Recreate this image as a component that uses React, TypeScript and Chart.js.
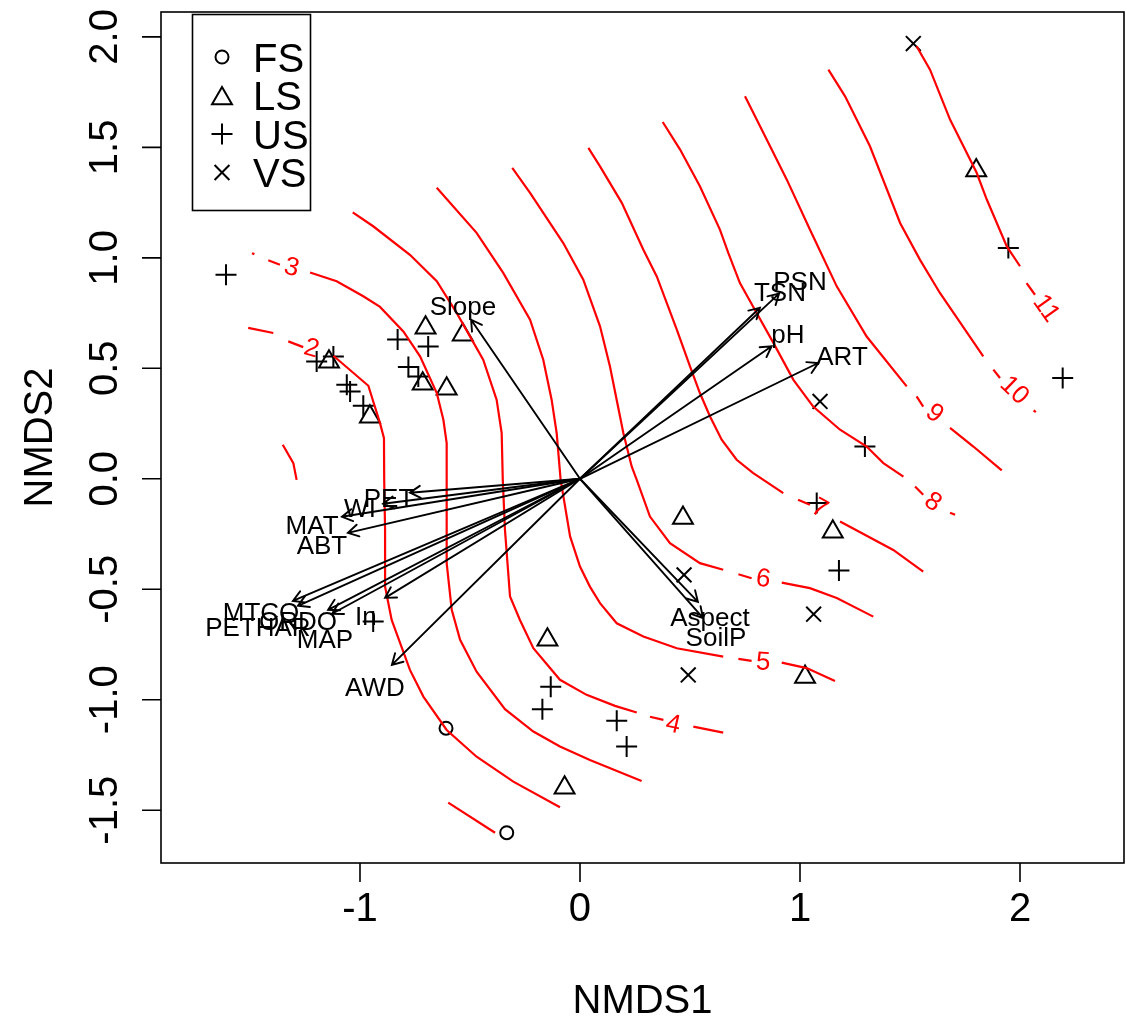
import React, { useEffect, useRef } from "react";
import { Chart, registerables } from "chart.js";
import { drawPoint } from "chart.js/helpers";

Chart.register(...registerables);

// ---------- axes ----------
const xRange = [-1.9045, 2.4727];
const yRange = [-1.7391, 2.1128];
const xTicks = [-1, 0, 1, 2];
const xTickLabels = ["-1", "0", "1", "2"];
const yTicks = [-1.5, -1.0, -0.5, 0.0, 0.5, 1.0, 1.5, 2.0];
const yTickLabels = ["-1.5", "-1.0", "-0.5", "0.0", "0.5", "1.0", "1.5", "2.0"];
const xTitle = "NMDS1";
const yTitle = "NMDS2";

// ---------- site scores ----------
const groupNames = ["FS", "LS", "US", "VS"];
const groupStyles = ["circle", "triangle", "cross", "crossRot"];

const fsX = [-0.609, -0.333];
const fsY = [-1.129, -1.602];

const lsX = [-1.141, -0.955, -0.702, -0.533, -0.715, -0.606, 0.468, 1.149, -0.148, -0.07, 1.023, 1.801];
const lsY = [0.53, 0.281, 0.684, 0.652, 0.43, 0.408, -0.177, -0.24, -0.729, -1.399, -0.897, 1.395];

const usX = [-1.609, -1.197, -1.121, -1.06, -1.045, -0.985, -0.829, -0.69, -0.78, -0.735, 1.947, 2.194, 1.295, 1.076, 1.177, -0.133, -0.171, 0.167, 0.212, -0.94];
const usY = [0.924, 0.531, 0.554, 0.426, 0.395, 0.331, 0.63, 0.599, 0.506, 0.463, 1.045, 0.456, 0.146, -0.11, -0.415, -0.941, -1.043, -1.095, -1.212, -0.646];

const vsX = [1.515, 1.091, 1.062, 0.473, 0.492];
const vsY = [1.97, 0.35, -0.613, -0.435, -0.888];

// ---------- fitted vectors ----------
const envNames = ["Slope", "TSN", "PSN", "pH", "ART", "Aspect", "SoilP", "AWD", "PET", "WI", "MAT", "ABT", "MTCQ", "PETHAR", "ORDO", "MAP", "In"];
const envX = [-0.495, 0.818, 0.905, 0.871, 1.083, 0.536, 0.559, -0.855, -0.773, -0.895, -1.082, -1.055, -1.305, -1.282, -1.145, -1.127, -0.886];
const envY = [0.72, 0.774, 0.838, 0.6, 0.524, -0.557, -0.63, -0.842, -0.063, -0.113, -0.172, -0.245, -0.553, -0.575, -0.593, -0.611, -0.539];
const envLabelX = [-0.532, 0.909, 1.0, 0.945, 1.191, 0.591, 0.618, -0.932, -0.868, -1.0, -1.218, -1.173, -1.45, -1.464, -1.282, -1.159, -0.973];
const envLabelY = [0.779, 0.842, 0.892, 0.652, 0.553, -0.63, -0.72, -0.947, -0.091, -0.136, -0.213, -0.303, -0.607, -0.675, -0.648, -0.729, -0.625];

// ---------- fitted surface contours (pieces broken around labels) ----------
const c1 = [
  [[-1.351, 0.154], [-1.303, 0.071], [-1.288, -0.005]],
  [[-0.599, -1.466], [-0.386, -1.602]],
];
const c2 = [
  [[-1.508, 0.683], [-1.394, 0.66]],
  [[-1.326, 0.622], [-1.258, 0.596]],
  [[-1.121, 0.557], [-0.962, 0.421], [-0.909, 0.252], [-0.891, 0.184], [-0.89, -0.005], [-0.886, -0.231], [-0.886, -0.488], [-0.856, -0.639], [-0.773, -0.865], [-0.712, -0.986], [-0.606, -1.137], [-0.47, -1.258], [-0.303, -1.371], [-0.091, -1.487]],
];
const c3 = [
  [[-1.491, 1.021], [-1.48, 1.017]],
  [[-1.417, 0.989], [-1.364, 0.969]],
  [[-1.227, 0.934], [-1.106, 0.894], [-0.985, 0.826], [-0.909, 0.778], [-0.803, 0.667], [-0.727, 0.554], [-0.651, 0.388], [-0.621, 0.267], [-0.606, 0.162], [-0.606, -0.005], [-0.606, -0.382], [-0.583, -0.593], [-0.545, -0.729], [-0.47, -0.873], [-0.341, -1.043], [-0.212, -1.144], [-0.091, -1.212], [0.045, -1.273], [0.28, -1.368]],
];
const c4 = [
  [[-1.033, 1.206], [-0.94, 1.143], [-0.773, 1.014], [-0.651, 0.894], [-0.56, 0.75], [-0.44, 0.539], [-0.379, 0.358], [-0.356, 0.207], [-0.351, -0.005], [-0.341, -0.231], [-0.318, -0.533], [-0.273, -0.639], [-0.212, -0.767], [-0.091, -0.91], [0.03, -0.978], [0.159, -1.028], [0.258, -1.058]],
  [[0.318, -1.077], [0.379, -1.091]],
  [[0.515, -1.122], [0.651, -1.149]],
];
const c5 = [
  [[-0.651, 1.317], [-0.47, 1.113], [-0.349, 0.932], [-0.227, 0.72], [-0.167, 0.539], [-0.129, 0.358], [-0.106, 0.207], [-0.088, -0.005], [-0.045, -0.261], [0, -0.397], [0.045, -0.488], [0.091, -0.563], [0.167, -0.654], [0.288, -0.714], [0.44, -0.767], [0.651, -0.805]],
  [[0.72, -0.815], [0.78, -0.824]],
  [[0.917, -0.832], [1.03, -0.857], [1.159, -0.915]],
];
const c6 = [
  [[-0.308, 1.407], [-0.227, 1.294], [-0.076, 1.067], [0.015, 0.901], [0.091, 0.69], [0.136, 0.509], [0.182, 0.282], [0.197, 0.207], [0.235, 0.056], [0.258, -0.005], [0.318, -0.171], [0.409, -0.291], [0.545, -0.382], [0.651, -0.412]],
  [[0.72, -0.432], [0.78, -0.45]],
  [[0.917, -0.47], [1.045, -0.495], [1.167, -0.54], [1.333, -0.624]],
];
const c7 = [
  [[0.038, 1.498], [0.091, 1.414], [0.19, 1.249], [0.288, 1.037], [0.349, 0.916], [0.44, 0.675], [0.5, 0.509], [0.545, 0.388], [0.591, 0.282], [0.644, 0.177], [0.712, 0.086], [0.786, 0.027], [0.924, -0.065]],
  [[0.991, -0.095], [1.045, -0.118]],
  [[1.182, -0.193], [1.424, -0.322], [1.56, -0.42]],
];
const c8 = [
  [[0.376, 1.615], [0.455, 1.49], [0.545, 1.324], [0.636, 1.128], [0.674, 1.022], [0.727, 0.886], [0.803, 0.75], [0.879, 0.615], [0.97, 0.448], [1.06, 0.327], [1.182, 0.222], [1.303, 0.146], [1.379, 0.071], [1.47, 0.01]],
  [[1.523, -0.035], [1.56, -0.072]],
  [[1.682, -0.154], [1.705, -0.163]],
];
const c9 = [
  [[0.75, 1.731], [0.864, 1.505], [0.94, 1.354], [1.045, 1.128], [1.167, 0.871], [1.303, 0.644], [1.485, 0.418]],
  [[1.53, 0.373], [1.56, 0.327]],
  [[1.682, 0.23], [1.788, 0.146], [1.917, 0.038]],
];
const c10 = [
  [[1.129, 1.852], [1.205, 1.731], [1.318, 1.505], [1.455, 1.158], [1.545, 0.992], [1.636, 0.841], [1.833, 0.554]],
  [[1.879, 0.494], [1.909, 0.456]],
  [[2.062, 0.31], [2.072, 0.302]],
];
const c11 = [
  [[1.53, 1.958], [1.591, 1.852], [1.682, 1.626], [1.803, 1.385], [1.849, 1.264], [1.94, 1.052], [2.0, 0.962]],
  [[2.03, 0.886], [2.068, 0.833]],
];
const contourPieces = [c1, c2, c3, c4, c5, c6, c7, c8, c9, c10, c11];
const contourLabels = ["", "2", "3", "4", "5", "6", "7", "8", "9", "10", "11"];
const contourLabelX = [0, -1.22, -1.31, 0.424, 0.833, 0.833, 1.091, 1.606, 1.614, 1.977, 2.121];
const contourLabelY = [0, 0.592, 0.959, -1.11, -0.827, -0.45, -0.131, -0.103, 0.298, 0.403, 0.773];
const contourLabelAfterPiece = [-1, 1, 1, 1, 1, 1, 1, 1, 1, 1, 1];

const FONT = '"Liberation Sans", Arial, Helvetica, sans-serif';
const RED = "#ff0000";

const rPlugin = {
  id: "rBase",
  afterDatasetsDraw(chart: any) {
    const ctx = chart.ctx as CanvasRenderingContext2D;
    const xs = chart.scales.x;
    const ys = chart.scales.y;
    const px = (v: number) => xs.getPixelForValue(v);
    const py = (v: number) => ys.getPixelForValue(v);
    const { left, right, top, bottom } = chart.chartArea;

    ctx.save();
    // contour labels
    ctx.fillStyle = RED;
    ctx.font = `26px ${FONT}`;
    ctx.textAlign = "center";
    ctx.textBaseline = "middle";
    contourPieces.forEach((pieces, i) => {
      const lab = contourLabels[i];
      if (!lab) return;
      const k = contourLabelAfterPiece[i];
      const prev = pieces[k];
      const next = pieces[k + 1];
      let a: number[], b: number[];
      if (next) {
        a = prev[prev.length - 1];
        b = next[0];
      } else {
        a = prev[prev.length - 2];
        b = prev[prev.length - 1];
      }
      let ang = Math.atan2(py(b[1]) - py(a[1]), px(b[0]) - px(a[0]));
      if (ang > Math.PI / 2) ang -= Math.PI;
      if (ang < -Math.PI / 2) ang += Math.PI;
      ctx.save();
      ctx.translate(px(contourLabelX[i]), py(contourLabelY[i]));
      ctx.rotate(ang);
      ctx.fillText(lab, 0, 1);
      ctx.restore();
    });

    // arrows
    ctx.strokeStyle = "#000";
    ctx.lineWidth = 1.9;
    ctx.lineCap = "round";
    const ox = px(0);
    const oy = py(0);
    envNames.forEach((_, i) => {
      const ex = px(envX[i]);
      const ey = py(envY[i]);
      ctx.beginPath();
      ctx.moveTo(ox, oy);
      ctx.lineTo(ex, ey);
      const ang = Math.atan2(ey - oy, ex - ox);
      const L = 12;
      const h = Math.PI / 6;
      ctx.moveTo(ex - L * Math.cos(ang - h), ey - L * Math.sin(ang - h));
      ctx.lineTo(ex, ey);
      ctx.lineTo(ex - L * Math.cos(ang + h), ey - L * Math.sin(ang + h));
      ctx.stroke();
    });
    ctx.fillStyle = "#000";
    ctx.font = `26px ${FONT}`;
    ctx.textAlign = "center";
    ctx.textBaseline = "middle";
    envNames.forEach((n, i) => {
      ctx.fillText(n, px(envLabelX[i]), py(envLabelY[i]) + 1);
    });

    // box
    ctx.lineWidth = 1.6;
    ctx.lineCap = "butt";
    ctx.strokeRect(left, top, right - left, bottom - top);

    // ticks
    ctx.beginPath();
    xTicks.forEach((t) => {
      const x = px(t);
      ctx.moveTo(x, bottom);
      ctx.lineTo(x, bottom + 19);
    });
    yTicks.forEach((t) => {
      const y = py(t);
      ctx.moveTo(left, y);
      ctx.lineTo(left - 19, y);
    });
    ctx.stroke();

    ctx.font = `40px ${FONT}`;
    ctx.textAlign = "center";
    ctx.textBaseline = "alphabetic";
    xTicks.forEach((t, i) => {
      ctx.fillText(xTickLabels[i], px(t), 921);
    });
    yTicks.forEach((t, i) => {
      ctx.save();
      ctx.translate(117, py(t));
      ctx.rotate(-Math.PI / 2);
      ctx.fillText(yTickLabels[i], 0, 0);
      ctx.restore();
    });
    ctx.fillText(xTitle, (left + right) / 2, 1013);
    ctx.save();
    ctx.translate(52, (top + bottom) / 2);
    ctx.rotate(-Math.PI / 2);
    ctx.fillText(yTitle, 0, 0);
    ctx.restore();

    // legend
    ctx.lineWidth = 1.6;
    ctx.strokeRect(192.5, 14.5, 118, 196);
    ctx.textAlign = "left";
    groupNames.forEach((g, i) => {
      const cy = 57 + i * 38.5;
      const st = groupStyles[i];
      ctx.fillStyle = "rgba(0,0,0,0)";
      ctx.strokeStyle = "#000";
      ctx.lineWidth = 2;
      drawPoint(
        ctx,
        {
          pointStyle: st,
          radius: st === "circle" ? 6.5 : st === "triangle" ? 11.5 : 10.5,
          rotation: 0,
          borderWidth: 2,
        } as any,
        222,
        st === "triangle" ? cy + 3 : cy
      );
      ctx.fillStyle = "#000";
      ctx.fillText(g, 253, cy + 14.5);
    });
    ctx.restore();
  },
};

function pts(xs: number[], ys: number[]) {
  return xs.map((x, i) => ({ x, y: ys[i] }));
}

export default function App() {
  const ref = useRef<HTMLCanvasElement>(null);
  useEffect(() => {
    if (!ref.current) return;
    const datasets: any[] = [];
    contourPieces.forEach((pieces) => {
      pieces.forEach((p) => {
        datasets.push({
          data: p.map(([x, y]) => ({ x, y })),
          showLine: true,
          borderColor: RED,
          borderWidth: 2.2,
          pointRadius: 0,
          tension: 0,
          fill: false,
        });
      });
    });
    const groupData = [pts(fsX, fsY), pts(lsX, lsY), pts(usX, usY), pts(vsX, vsY)];
    groupData.forEach((d, i) => {
      const st = groupStyles[i];
      datasets.push({
        data: d,
        pointStyle: st,
        pointRadius: st === "circle" ? 6.5 : st === "triangle" ? 11.5 : 10.5,
        pointBorderWidth: 2,
        pointBorderColor: "#000",
        pointBackgroundColor: "rgba(0,0,0,0)",
        showLine: false,
        clip: false,
      });
    });
    const chart = new Chart(ref.current, {
      type: "scatter",
      data: { datasets },
      options: {
        responsive: false,
        animation: false,
        devicePixelRatio: 1,
        events: [],
        layout: { autoPadding: false, padding: { left: 161, right: 2, top: 12, bottom: 156 } },
        plugins: { legend: { display: false }, tooltip: { enabled: false } },
        scales: {
          x: { type: "linear", min: xRange[0], max: xRange[1], display: false },
          y: { type: "linear", min: yRange[0], max: yRange[1], display: false },
        },
      },
      plugins: [rPlugin],
    });
    return () => chart.destroy();
  }, []);
  return (
    <div style={{ position: "fixed", left: 0, top: 0, width: 1126, height: 1019, background: "#fff" }}>
      <canvas ref={ref} width={1126} height={1019} style={{ width: 1126, height: 1019 }} />
    </div>
  );
}
